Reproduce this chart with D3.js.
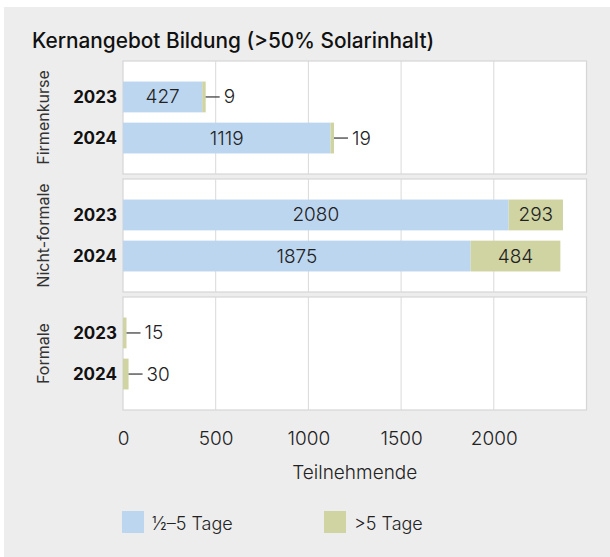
<!DOCTYPE html>
<html><head><meta charset="utf-8">
<script src="https://cdn.jsdelivr.net/npm/d3@7"></script>
<style>
html,body{margin:0;padding:0;background:#fff;}
svg{display:block;font-family:Inter,"Noto Sans",sans-serif;}
</style></head>
<body>
<svg id="chart" width="610" height="557"></svg>
<script>
const title = "Kernangebot Bildung (>50% Solarinhalt)";
const categories = ["Firmenkurse", "Nicht-formale", "Formale"];
const years = ["2023", "2024"];
const shortCourses = [[427, 1119], [2080, 1875], [0, 0]];   // ½–5 Tage
const longCourses  = [[9, 19], [293, 484], [15, 30]];       // >5 Tage
const seriesNames = ["\u00BD\u20135 Tage", ">5 Tage"];
const xTicks = [0, 500, 1000, 1500, 2000];
const xTitle = "Teilnehmende";

const colors = ["#bdd6f0", "#cfd4a2"];
const svg = d3.select("#chart");

svg.append("rect").attr("x", 4).attr("y", 7).attr("width", 606).attr("height", 550).attr("fill", "#ededed");

svg.append("text").attr("x", 32).attr("y", 48).attr("font-size", 20.8).attr("font-weight", 500)
  .attr("fill", "#111").text(title);

const left = 123, right = 586.5;
const x = d3.scaleLinear().domain([0, 2500]).range([left, right]);
const panelTop = 61, panelH = 113, panelStep = 118;
const y = d3.scaleBand().domain(years).range([0, panelH]).paddingInner(0.25).paddingOuter(0.5);

categories.forEach((cat, ci) => {
  const g = svg.append("g").attr("transform", `translate(0,${panelTop + ci * panelStep})`);
  g.append("rect").attr("x", left).attr("y", 0).attr("width", right - left).attr("height", panelH)
    .attr("fill", "#fff").attr("stroke", "#d6d6d6").attr("stroke-width", 1.2);
  g.selectAll("line.grid").data(xTicks.slice(1)).enter().append("line")
    .attr("x1", d => x(d)).attr("x2", d => x(d)).attr("y1", 0).attr("y2", panelH)
    .attr("stroke", "#d9d9d9").attr("stroke-width", 1);

  g.append("text").attr("transform", `translate(43,${panelH / 2}) rotate(-90)`)
    .attr("text-anchor", "middle").attr("dominant-baseline", "central")
    .attr("font-size", 16).attr("fill", "#333").text(cat);

  years.forEach((yr, yi) => {
    const a = shortCourses[ci][yi], b = longCourses[ci][yi];
    const yy = y(yr), bh = y.bandwidth(), cy = yy + bh / 2;
    g.append("text").attr("x", 117).attr("y", cy).attr("text-anchor", "end")
      .attr("dominant-baseline", "central").attr("font-size", 17).attr("font-weight", 700)
      .attr("fill", "#111").text(yr);
    if (a > 0) {
      g.append("rect").attr("x", x(0)).attr("y", yy).attr("width", x(a) - x(0)).attr("height", bh).attr("fill", colors[0]);
    }
    const segW = Math.max(x(a + b) - x(a), 3.5);
    g.append("rect").attr("x", x(a)).attr("y", yy).attr("width", segW).attr("height", bh).attr("fill", colors[1]);
    if (a > 0) {
      g.append("text").attr("x", (x(0) + x(a)) / 2).attr("y", cy).attr("text-anchor", "middle")
        .attr("dominant-baseline", "central").attr("font-size", 19).attr("font-weight", 300)
        .attr("fill", "#222").text(a);
    }
    if (segW > 40) {
      g.append("text").attr("x", x(a) + segW / 2).attr("y", cy).attr("text-anchor", "middle")
        .attr("dominant-baseline", "central").attr("font-size", 19).attr("font-weight", 300)
        .attr("fill", "#222").text(b);
    } else {
      const ex = x(a) + segW;
      g.append("line").attr("x1", ex).attr("x2", ex + 14).attr("y1", cy).attr("y2", cy)
        .attr("stroke", "#333").attr("stroke-width", 1.2);
      g.append("text").attr("x", ex + 18).attr("y", cy).attr("dominant-baseline", "central")
        .attr("font-size", 19).attr("font-weight", 300).attr("fill", "#222").text(b);
    }
  });
});

const axisG = svg.append("g").attr("transform", `translate(0,${panelTop + 2 * panelStep + panelH})`)
  .call(d3.axisBottom(x).tickValues(xTicks).tickFormat(d3.format("d")).tickSize(0).tickPadding(22));
axisG.select(".domain").remove();
axisG.selectAll("text").attr("font-size", 19).attr("font-weight", 300).attr("fill", "#222")
  .attr("font-family", "Inter,'Noto Sans',sans-serif");

svg.append("text").attr("x", (left + right) / 2).attr("y", 479).attr("text-anchor", "middle")
  .attr("font-size", 19).attr("font-weight", 300).attr("fill", "#222").text(xTitle);

const legX = [122, 324];
seriesNames.forEach((n, i) => {
  svg.append("rect").attr("x", legX[i]).attr("y", 511).attr("width", 22).attr("height", 22).attr("fill", colors[i]);
  svg.append("text").attr("x", legX[i] + 30).attr("y", 530).attr("font-size", 18).attr("font-weight", 300)
    .attr("fill", "#222").text(n);
});
</script>
</body></html>
